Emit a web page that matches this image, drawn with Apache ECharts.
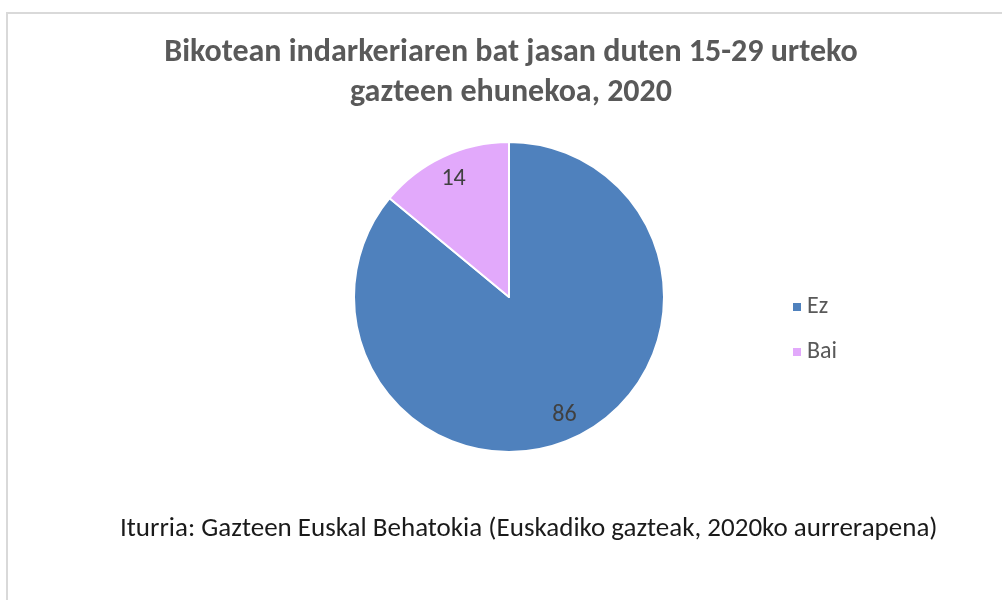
<!DOCTYPE html>
<html>
<head>
<meta charset="utf-8">
<script src="https://cdn.jsdelivr.net/npm/echarts@6/dist/echarts.min.js"></script>
<style>
  html, body { margin: 0; padding: 0; background: #fff; }
  #chart { width: 1002px; height: 600px; }
</style>
</head>
<body>
<div id="chart"></div>
<script>
const titleText = 'Bikotean indarkeriaren bat jasan duten 15-29 urteko\ngazteen ehunekoa, 2020'
const sourceText = 'Iturria: Gazteen Euskal Behatokia (Euskadiko gazteak, 2020ko aurrerapena)'
const categories = ['Ez', 'Bai']
const values = [86, 14]
const colors = ['#4f81bd', '#e2a9fb']

const radius = 155
const font = 'Carlito, Calibri, "Open Sans", sans-serif'

// push the inside labels out to ~0.8 of the radius, like the original
const total = values.reduce((a, b) => a + b, 0)
let acc = 0
const pieData = categories.map((name, i) => {
  const mid = 90 - (acc + values[i] / 2) / total * 360
  acc += values[i]
  const a = mid * Math.PI / 180
  const shift = radius * 0.32
  return {
    name,
    value: values[i],
    itemStyle: { color: colors[i] },
    label: { offset: [Math.cos(a) * shift, -Math.sin(a) * shift] }
  }
})

const chart = echarts.init(document.getElementById('chart'))
chart.setOption({
  animation: false,
  title: {
    text: titleText,
    left: 506,
    top: 28,
    textAlign: 'center',
    textStyle: { color: '#595959', fontFamily: font, fontSize: 32, fontWeight: 'bold', lineHeight: 40 }
  },
  legend: {
    orient: 'vertical',
    left: 786,
    top: 290,
    itemWidth: 10,
    itemHeight: 10,
    itemGap: 21,
    icon: 'rect',
    data: categories,
    textStyle: { color: '#595959', fontFamily: font, fontSize: 24 }
  },
  graphic: [
    {
      type: 'rect',
      silent: true,
      shape: { x: 7, y: 13, width: 1200, height: 800 },
      style: { fill: 'none', stroke: '#d9d9d9', lineWidth: 2 }
    },
    {
      type: 'text',
      left: 120,
      top: 516,
      style: { text: sourceText, fill: '#1a1a1a', font: '27px ' + font }
    }
  ],
  series: [{
    type: 'pie',
    center: [509, 297],
    radius: [0, radius],
    startAngle: 90,
    clockwise: true,
    itemStyle: { borderColor: '#fff', borderWidth: 2 },
    label: {
      show: true,
      position: 'inside',
      color: '#404040',
      fontFamily: font,
      fontSize: 24,
      formatter: '{c}'
    },
    labelLine: { show: false },
    emphasis: { disabled: true },
    data: pieData
  }]
})
</script>
</body>
</html>
